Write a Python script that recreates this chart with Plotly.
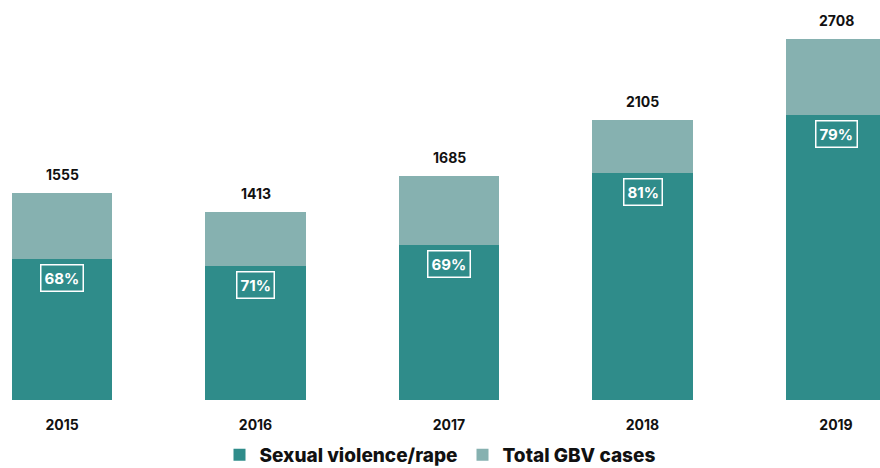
import plotly.graph_objects as go

years = ["2015", "2016", "2017", "2018", "2019"]
totals = [1555, 1413, 1685, 2105, 2708]
sv_pct = [68, 71, 69, 81, 79]

sv_vals = [t * p / 100 for t, p in zip(totals, sv_pct)]
rest_vals = [t - s for t, s in zip(totals, sv_vals)]
xpos = list(range(len(years)))

DARK = "#2f8c8a"
LIGHT = "#86b1b0"
FONT = "Inter"

fig = go.Figure()
fig.add_trace(go.Bar(x=xpos, y=sv_vals, name="Sexual violence/rape", marker=dict(color=DARK, line=dict(width=0)),
                     width=0.52, hoverinfo="skip"))
fig.add_trace(go.Bar(x=xpos, y=rest_vals, name="Total GBV cases", marker=dict(color=LIGHT, line=dict(width=0)),
                     width=0.52, hoverinfo="skip"))

annotations = []
for i, (t, s, p) in enumerate(zip(totals, sv_vals, sv_pct)):
    annotations.append(dict(x=i, y=t, xref="x", yref="y", text=str(t), showarrow=False,
                            yanchor="bottom", yshift=8,
                            font=dict(family=FONT, size=14, color="#111111", weight="bold")))
    annotations.append(dict(x=i, y=s, xref="x", yref="y", text=f"{p}%", showarrow=False,
                            yanchor="top", yshift=-5, bordercolor="white", borderwidth=1.5, borderpad=3,
                            font=dict(family=FONT, size=15, color="white", weight="bold")))

fig.update_layout(
    width=880, height=468,
    margin=dict(l=0, r=0, t=0, b=68),
    barmode="stack",
    paper_bgcolor="white", plot_bgcolor="white",
    xaxis=dict(tickmode="array", tickvals=xpos, ticktext=years, range=[-0.3204, 4.2274],
               showgrid=False, zeroline=False, showline=False, ticks="",
               ticklabelstandoff=15,
               tickfont=dict(family=FONT, size=14, color="#111111", weight="bold")),
    yaxis=dict(range=[0, 3003], visible=False, showgrid=False, zeroline=False),
    legend=dict(orientation="h", x=0.5, xanchor="center", xref="container",
                y=0.028, yanchor="middle", yref="container",
                font=dict(family=FONT, size=19, color="#111111", weight=800),
                itemwidth=30, traceorder="normal", itemclick=False),
    annotations=annotations,
    showlegend=True,
)

fig.write_html("out.html")
